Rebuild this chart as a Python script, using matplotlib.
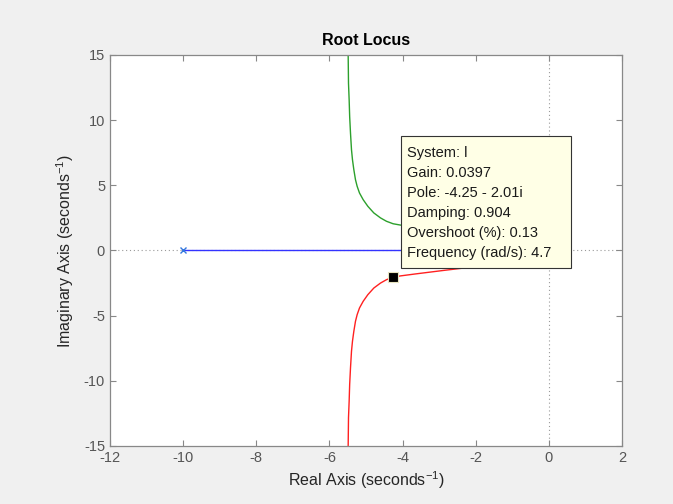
import numpy as np
import matplotlib
matplotlib.use("Agg")
import matplotlib.pyplot as plt
from matplotlib.patches import Rectangle

plt.rcParams['font.family'] = ['Liberation Sans', 'DejaVu Sans']
plt.rcParams['mathtext.fontset'] = 'custom'
plt.rcParams['mathtext.rm'] = 'Liberation Sans'
plt.rcParams['axes.unicode_minus'] = False

# upper complex branch (lower branch is its mirror)
branch_x = [-5.487, -5.478, -5.460, -5.446, -5.423, -5.396, -5.369, -5.332, -5.287,
            -5.241, -5.177, -5.077, -4.949, -4.785, -4.603, -4.439, -4.257, -4.056,
            -3.65, -3.25, -2.85, -2.43, -1.9, -1.4, -1.0]
branch_y = [15.0, 12.83, 11.55, 10.28, 9.00, 7.73, 6.96, 6.20, 5.43,
            4.92, 4.41, 3.90, 3.39, 2.88, 2.50, 2.24, 2.05, 1.95,
            1.80, 1.66, 1.52, 1.38, 1.22, 1.08, 1.0]
# real-axis branch
real_x = [-10.0, -1.0]
real_y = [0.0, 0.0]
pole_x = [-10.0]
pole_y = [0.0]

# selected point (data tip)
sel_re, sel_im = -4.25, -2.01
tip_lines = ["System: l", "Gain: 0.0397", "Pole: -4.25 - 2.01i",
             "Damping: 0.904", "Overshoot (%): 0.13", "Frequency (rad/s): 4.7"]

fig = plt.figure(figsize=(6.73, 5.04), dpi=100, facecolor='#f0f0f0')
ax = fig.add_axes([0.1634, 0.1151, 0.9242 - 0.1634, 0.8909 - 0.1151])
ax.set_facecolor('white')

ax.axhline(0, color='#9a9a9a', lw=0.8, ls=(0, (1, 2.5)), zorder=1)
ax.axvline(0, color='#9a9a9a', lw=0.8, ls=(0, (1, 2.5)), zorder=1)

ax.plot(real_x, real_y, color='#3333ff', lw=1.0, zorder=2)
ax.plot(pole_x, pole_y, 'x', color='#3377dd', ms=5, mew=1.0, zorder=3)
ax.plot(branch_x, branch_y, color='#2ca02c', lw=1.0, zorder=2)
ax.plot(branch_x, [-v for v in branch_y], color='#ff2020', lw=1.0, zorder=2)

ax.plot([sel_re], [sel_im], 's', color='black', ms=7, mec='#e8e4c0', mew=0.8, zorder=6)

# data tip box
box = Rectangle((-4.03, -1.32), 0.593 + 4.03, 8.82 + 1.32, facecolor='#ffffe6',
                edgecolor='#333333', lw=0.8, zorder=5)
ax.add_patch(box)
for i, s in enumerate(tip_lines):
    ax.text(-3.875, 7.47 - i * 1.54, s, fontsize=10.5, color='#1a1a1a',
            va='center', ha='left', zorder=7)

ax.set_xlim(-12, 2)
ax.set_ylim(-15, 15)
ax.set_xticks(np.arange(-12, 3, 2))
ax.set_yticks(np.arange(-15, 16, 5))
ax.tick_params(direction='in', length=4, width=0.8, color='#888888',
               labelcolor='#555555', labelsize=10.5, top=True, right=True)
for sp in ax.spines.values():
    sp.set_color('#888888')
    sp.set_linewidth(0.9)

ax.set_title('Root Locus', fontsize=11.5, fontweight='bold', color='black', pad=7)
ax.set_xlabel('Real Axis (seconds$^{-1}$)', fontsize=11.5, color='#262626', labelpad=3)
ax.set_ylabel('Imaginary Axis (seconds$^{-1}$)', fontsize=11.5, color='#262626', labelpad=6)

fig.savefig('out.png', dpi=100, facecolor=fig.get_facecolor())
